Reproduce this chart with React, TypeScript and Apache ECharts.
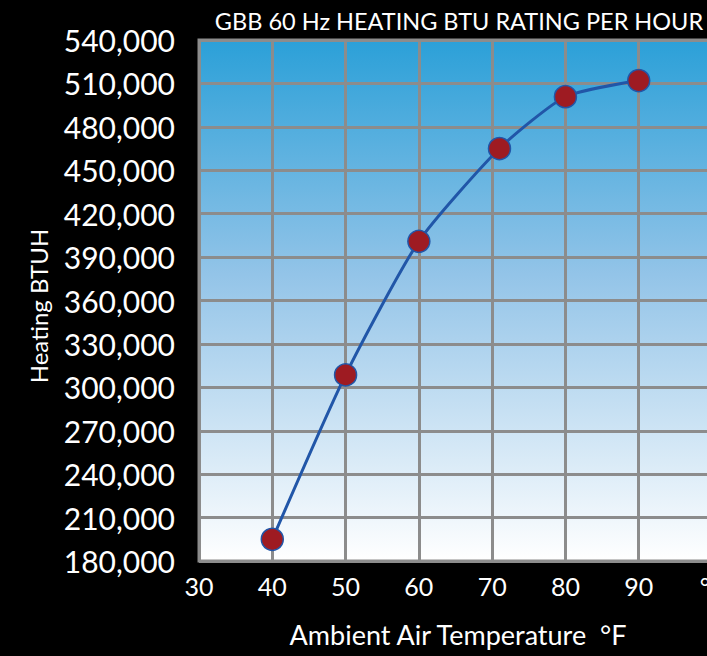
import React, { useEffect, useRef } from "react";
import * as echarts from "echarts";

const temperatures = [40, 50, 60, 71, 80, 90];
const heatingBtuh = [195000, 308600, 400900, 465000, 500800, 512000];
const xTicks = [30, 40, 50, 60, 70, 80, 90, 100];
const titleText = "GBB 60 Hz HEATING BTU RATING PER HOUR";
const xName = "Ambient Air Temperature  °F";
const yName = "Heating BTUH";

const FONT = "Lato, 'DejaVu Sans', sans-serif";

export default function App() {
  const ref = useRef<HTMLDivElement>(null);
  useEffect(() => {
    document.body.style.margin = "0";
    document.body.style.background = "#000";
    const chart = echarts.init(ref.current!, undefined, { renderer: "svg" });
    const fmt = (v: number) => v.toLocaleString("en-US");
    chart.setOption({
      animation: false,
      backgroundColor: "#000000",
      grid: {
        left: 199,
        top: 40,
        width: 513,
        height: 521,
        outerBoundsMode: "none",
        containLabel: false,
        show: true,
        borderColor: "#8c8c8c",
        borderWidth: 3,
        backgroundColor: new echarts.graphic.LinearGradient(0, 0, 0, 1, [
          { offset: 0, color: "#2ba0d8" },
          { offset: 0.45, color: "#93c4e8" },
          { offset: 1, color: "#ffffff" },
        ]),
      },
      xAxis: {
        type: "value",
        min: 30,
        max: 100,
        interval: 10,
        axisLine: { show: false },
        axisTick: { show: false },
        axisLabel: {
          color: "#ffffff",
          fontFamily: FONT,
          fontSize: 25,
          margin: 12,
          showMaxLabel: true,
          formatter: (v: number) => (v === xTicks[xTicks.length - 1] ? "°F" : String(v)),
        },
        splitLine: { show: true, lineStyle: { color: "#8c8c8c", width: 3 } },
      },
      yAxis: {
        type: "value",
        min: 180000,
        max: 540000,
        interval: 30000,
        axisLine: { show: false },
        axisTick: { show: false },
        axisLabel: {
          color: "#ffffff",
          fontFamily: FONT,
          fontSize: 30,
          margin: 24,
          formatter: fmt,
        },
        splitLine: { show: true, lineStyle: { color: "#8c8c8c", width: 3 } },
      },
      graphic: [
        {
          type: "text",
          x: 459,
          y: 21,
          style: {
            text: titleText,
            fill: "#ffffff",
            font: `23.5px ${FONT}`,
            textAlign: "center",
            textVerticalAlign: "middle",
          },
        },
        {
          type: "text",
          x: 38,
          y: 306,
          rotation: Math.PI / 2,
          style: {
            text: yName,
            fill: "#ffffff",
            font: `24px ${FONT}`,
            textAlign: "center",
            textVerticalAlign: "middle",
          },
        },
        {
          type: "text",
          x: 458,
          y: 634,
          style: {
            text: xName,
            fill: "#ffffff",
            font: `27px ${FONT}`,
            textAlign: "center",
            textVerticalAlign: "middle",
          },
        },
      ],
      series: [
        {
          type: "line",
          data: temperatures.map((t, i) => [t, heatingBtuh[i]]),
          smooth: 0.2,
          symbol: "circle",
          symbolSize: 22,
          lineStyle: { color: "#2156a8", width: 3 },
          itemStyle: { color: "#9e1b22", borderColor: "#2156a8", borderWidth: 1.5 },
        },
      ],
    });
    return () => chart.dispose();
  }, []);
  return <div ref={ref} style={{ width: 707, height: 656 }} />;
}
